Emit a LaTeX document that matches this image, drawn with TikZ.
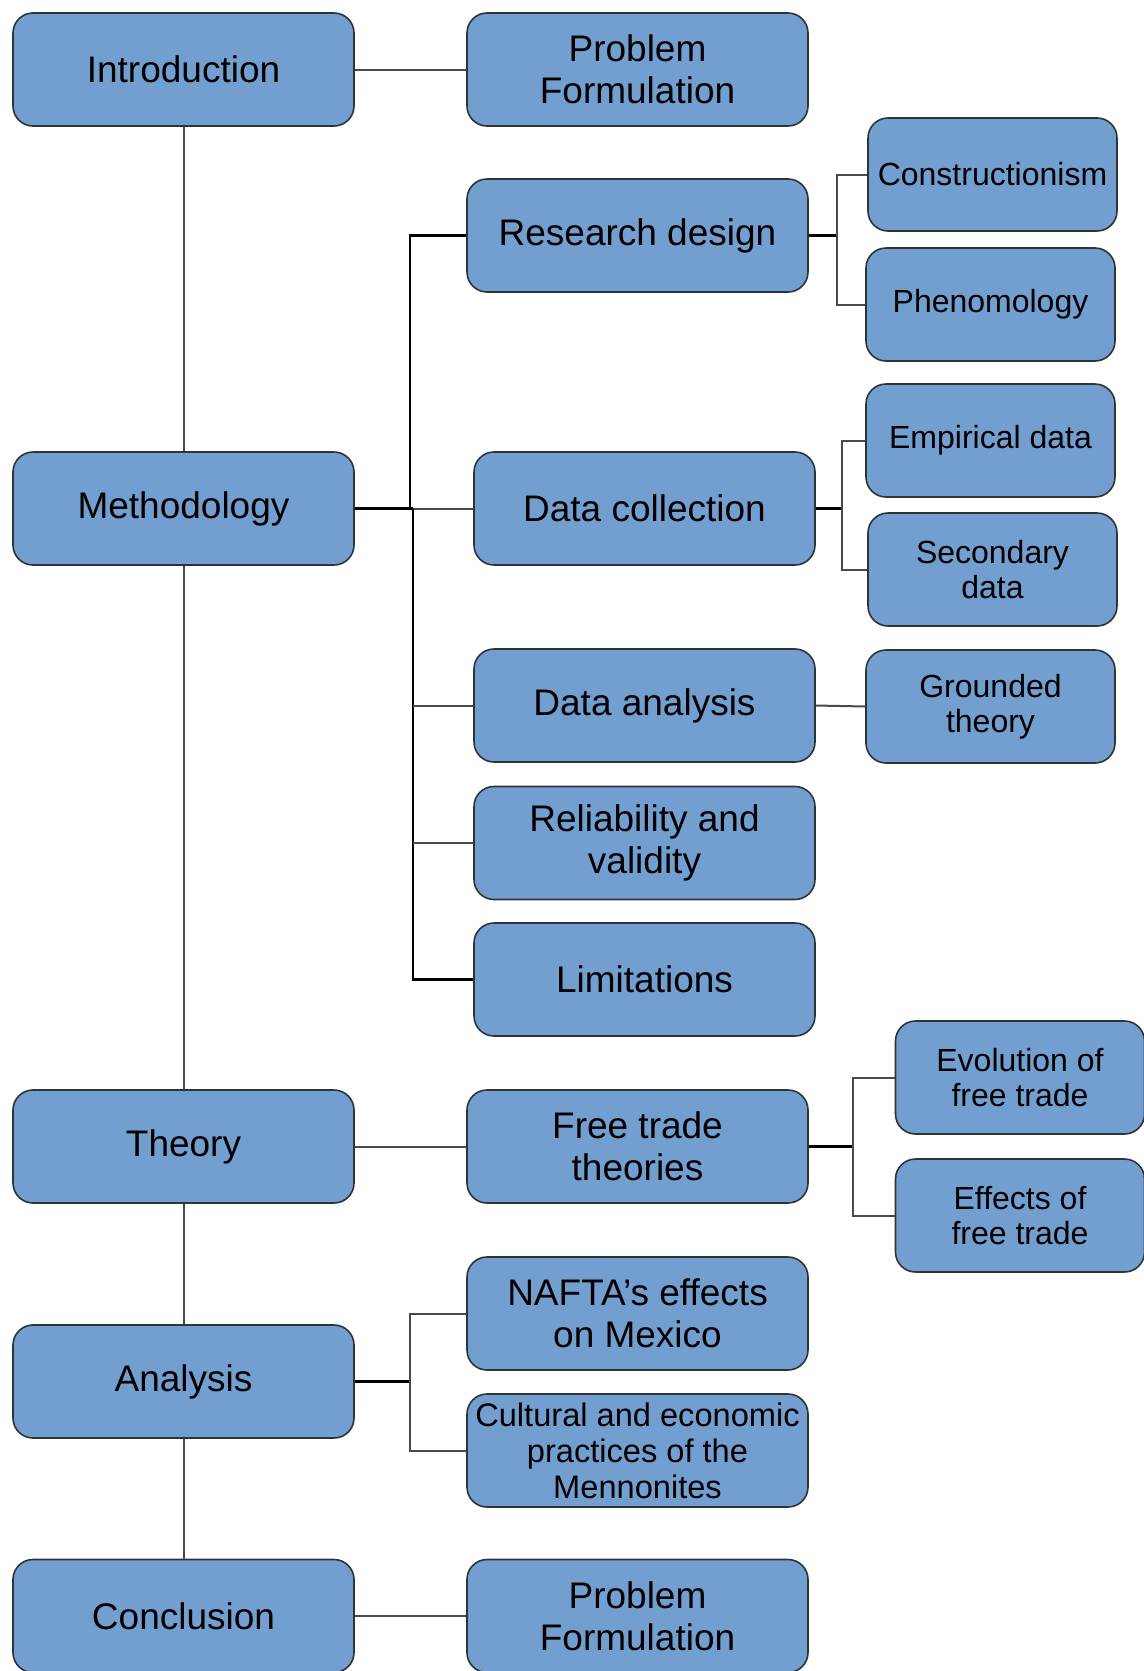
\documentclass[tikz,border=0pt]{standalone}
\usepackage{fontspec}
\setmainfont{Liberation Sans}
\definecolor{boxfill}{HTML}{729FCF}
\definecolor{boxline}{HTML}{2E3436}
\definecolor{conn}{HTML}{4A4A4A}
\begin{document}
\begin{tikzpicture}[x=0.5pt,y=-0.5pt,
  bigbox/.style={draw=boxline,fill=boxfill,line width=0.8pt,rounded corners=10pt,
    minimum width=170.5pt,minimum height=56.5pt,inner sep=0pt,align=center,
    font=\fontsize{18.5pt}{21pt}\selectfont,text=black},
  smallbox/.style={draw=boxline,fill=boxfill,line width=0.8pt,rounded corners=10pt,
    minimum width=124.5pt,minimum height=56.5pt,inner sep=0pt,align=center,
    font=\fontsize{16pt}{17.5pt}\selectfont,text=black},
  link/.style={draw=conn,line width=1pt},
  blink/.style={draw=black,line width=1.1pt}]
\useasboundingbox (0,0) rectangle (1144,1671);
\begin{scope}
\clip (0,0) rectangle (1144,1671);
% left column
\node[bigbox] (intro) at (183.5,69.5) {Introduction};
\node[bigbox] (meth) at (183.5,508.5) {Methodology};
\node[bigbox] (theory) at (183.5,1146.5) {Theory};
\node[bigbox] (anal) at (183.5,1381.5) {Analysis};
\node[bigbox] (concl) at (183.5,1616) {Conclusion};
% middle column
\node[bigbox] (pf1) at (637.5,69.5) {Problem\\Formulation};
\node[bigbox] (rd) at (637.5,235.5) {Research design};
\node[bigbox] (dc) at (644.5,508.5) {Data collection};
\node[bigbox] (da) at (644.5,705.5) {Data analysis};
\node[bigbox] (rv) at (644.5,843) {Reliability and\\validity};
\node[bigbox] (lim) at (644.5,979.5) {Limitations};
\node[bigbox] (ft) at (637.5,1146.5) {Free trade\\theories};
\node[bigbox] (nafta) at (637.5,1313.5) {NAFTA's effects\\on Mexico};
\node[bigbox,font=\fontsize{16.3pt}{18pt}\selectfont] (cult) at (637.5,1450.5) {Cultural and economic\\practices of the\\Mennonites};
\node[bigbox] (pf2) at (637.5,1616) {Problem\\Formulation};
% right column
\node[smallbox] (cons) at (992.5,174.5) {Constructionism};
\node[smallbox] (phen) at (990.5,304.5) {Phenomology};
\node[smallbox] (emp) at (990.5,440.5) {Empirical data};
\node[smallbox] (sec) at (992.5,569.5) {Secondary\\data};
\node[smallbox] (gt) at (990.5,706.5) {Grounded\\theory};
\node[smallbox] (evo) at (1020,1077.5) {Evolution of\\free trade};
\node[smallbox] (eff) at (1020,1215.5) {Effects of\\free trade};
\end{scope}
% spine
\draw[link] (intro.south) -- (meth.north);
\draw[link] (meth.south) -- (theory.north);
\draw[link] (theory.south) -- (anal.north);
\draw[link] (anal.south) -- (concl.north);
% horizontal links
\draw[link] (intro.east) -- (pf1.west);
\draw[link] (theory.east) -- (ft.west);
\draw[link] (concl.east) -- (pf2.west);
\draw[link] (da.east) -- (gt.west);
% methodology
\coordinate (mA) at (410,508.5);
\coordinate (mB) at (413,508.5);
\draw[blink] (meth.east) -- (mB);
\draw[blink] (mA) |- (rd.west);
\draw[link] (mB) -- (dc.west);
\draw[blink] (mB) |- (lim.west);
\draw[link] (mB |- da.west) -- (da.west);
\draw[link] (mB |- rv.west) -- (rv.west);
% research design
\coordinate (rj) at (837,235.5);
\draw[blink] (rd.east) -- (rj);
\draw[link] (rj) |- (cons.west);
\draw[link] (rj) |- (phen.west);
% data collection
\coordinate (dj) at (842,508.5);
\draw[blink] (dc.east) -- (dj);
\draw[link] (dj) |- (emp.west);
\draw[link] (dj) |- (sec.west);
% free trade
\coordinate (fj) at (853,1146.5);
\draw[blink] (ft.east) -- (fj);
\draw[link] (fj) |- (evo.west);
\draw[link] (fj) |- (eff.west);
% analysis
\coordinate (aj) at (410,1381.5);
\draw[blink] (anal.east) -- (aj);
\draw[link] (aj) |- (nafta.west);
\draw[link] (aj) |- (cult.west);
\end{tikzpicture}
\end{document}
